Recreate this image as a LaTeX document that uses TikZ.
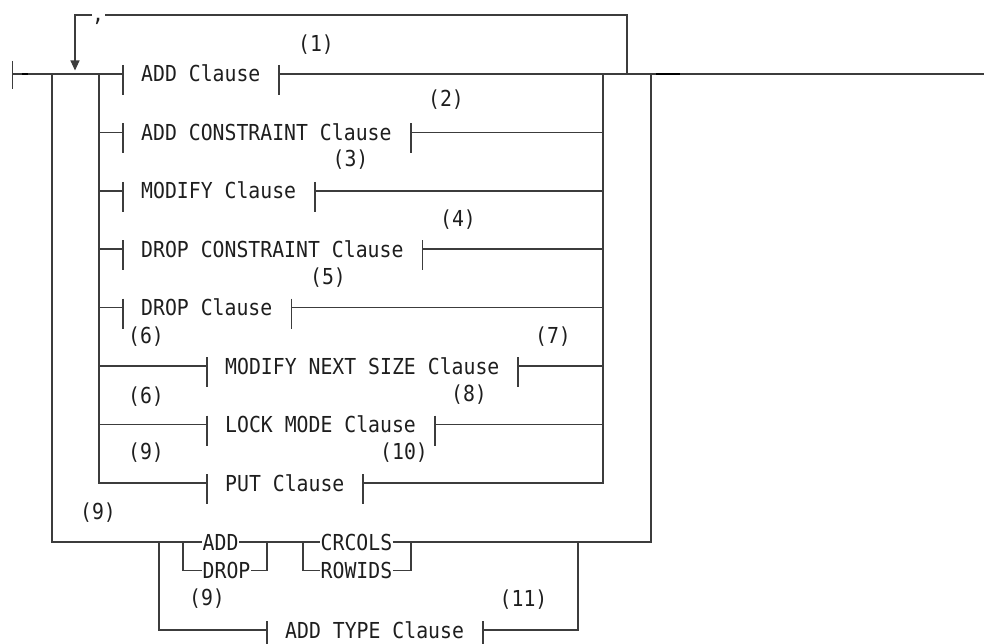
\documentclass[tikz,border=0pt]{standalone}
\usepackage{fontspec}
\newfontfamily\dmono[FakeStretch=0.9]{DejaVu Sans Mono}
\usetikzlibrary{arrows.meta}
\definecolor{linec}{RGB}{60,60,60}
\definecolor{textc}{RGB}{30,30,30}
\begin{document}
\begin{tikzpicture}[x=1pt,y=-1pt,
  ln/.style={draw=linec, line width=1.1pt},
  thickdash/.style={draw=black, line width=2.4pt},
  txt/.style={font=\dmono\fontsize{22}{26}\selectfont, text=textc, inner sep=0pt, anchor=base west},
  kw/.style={font=\dmono\fontsize{22}{26}\selectfont, text=textc, inner xsep=0.5pt, inner ysep=0pt,
             text height=16pt, text depth=0pt, anchor=base west},
  lbl/.style={font=\dmono\fontsize{22}{26}\selectfont, text=textc, inner sep=0pt}]
\useasboundingbox (0,0) rectangle (984,644);

% ---------- clause texts ----------
\node[txt] (c1) at (141,82)    {ADD Clause};
\node[txt] (c2) at (141,140.5) {ADD CONSTRAINT Clause};
\node[txt] (c3) at (141,199)   {MODIFY Clause};
\node[txt] (c4) at (141,257)   {DROP CONSTRAINT Clause};
\node[txt] (c5) at (141,315.5) {DROP Clause};
\node[txt] (c6) at (225,374)   {MODIFY NEXT SIZE Clause};
\node[txt] (c7) at (225,432.5) {LOCK MODE Clause};
\node[txt] (c8) at (225,491)   {PUT Clause};
\node[txt] (c9) at (285,638)   {ADD TYPE Clause};

% ---------- keyword texts on the bottom branch ----------
\node[kw] (add)    at (202,550)   {ADD};
\node[kw] (drop)   at (202,578.5) {DROP};
\node[kw] (crcols) at (320,550)   {CRCOLS};
\node[kw] (rowids) at (320,578.5) {ROWIDS};

% ---------- footnote labels ----------
\node[lbl] (n1)  at (316,45)    {(1)};
\node[lbl] (n2)  at (446,100)   {(2)};
\node[lbl] (n3)  at (350.5,160) {(3)};
\node[lbl] (n4)  at (458,220)   {(4)};
\node[lbl] (n5)  at (328,278)   {(5)};
\node[lbl] (n6a) at (146,337)   {(6)};
\node[lbl] (n7)  at (553,337)   {(7)};
\node[lbl] (n6b) at (146,397)   {(6)};
\node[lbl] (n8)  at (469,395)   {(8)};
\node[lbl] (n9a) at (146,453)   {(9)};
\node[lbl] (n10) at (404,453)   {(10)};
\node[lbl] (n9b) at (98,513)    {(9)};
\node[lbl] (n9c) at (207,599)   {(9)};
\node[lbl] (n11) at (523.5,600) {(11)};
\node[lbl] (comma) at (98,21)   {,};

% ---------- junction coordinates ----------
\coordinate (start) at (12.3,74);
\coordinate (stop)  at (984,74);
\coordinate (c1l) at (123,74);    \coordinate (c1r) at (279,74);
\coordinate (c2l) at (123,132.5); \coordinate (c2r) at (411,132.5);
\coordinate (c3l) at (123,191);   \coordinate (c3r) at (315,191);
\coordinate (c4l) at (123,249);   \coordinate (c4r) at (422.5,249);
\coordinate (c5l) at (123,307.5); \coordinate (c5r) at (291.5,307.5);
\coordinate (c6l) at (207,366);   \coordinate (c6r) at (518,366);
\coordinate (c7l) at (207,424.5); \coordinate (c7r) at (435,424.5);
\coordinate (c8l) at (207,483);   \coordinate (c8r) at (363,483);
\coordinate (c9l) at (267,630);   \coordinate (c9r) at (483,630);

% ---------- start bar and main line ----------
\draw[ln] (12.3,61) -- (12.3,89);
\draw[ln] (start) -- (c1l);
\draw[ln] (c1r) -- (stop);
\draw[thickdash] (22,74) -- (27.5,74);
\draw[thickdash] (656,74) -- (680,74);

% ---------- repeat loop ----------
\draw[ln] (627,74) |- (105,15);
\draw[ln, -{Triangle[width=9pt,length=10pt]}] (92,15) -| (75,70.5);

% ---------- clause bars ----------
\foreach \p in {c1l, c1r, c2l, c2r, c3l, c3r, c4l, c4r,
                c5l, c5r, c6l, c6r, c7l, c7r, c8l, c8r}
  \draw[ln] ([yshift=9pt]\p) -- ([yshift=-21pt]\p);
\draw[ln] ([yshift=9pt]c9l) -- ([yshift=-16pt]c9l);
\draw[ln] ([yshift=9pt]c9r) -- ([yshift=-16pt]c9r);

% ---------- inner choice stack ----------
\draw[ln] (99,74) |- (c8l);
\draw[ln] (c8r) -| (603,74);
\draw[ln] (99,132.5) -- (c2l);  \draw[ln] (c2r) -- (603,132.5);
\draw[ln] (99,191)   -- (c3l);  \draw[ln] (c3r) -- (603,191);
\draw[ln] (99,249)   -- (c4l);  \draw[ln] (c4r) -- (603,249);
\draw[ln] (99,307.5) -- (c5l);  \draw[ln] (c5r) -- (603,307.5);
\draw[ln] (99,366)   -- (c6l);  \draw[ln] (c6r) -- (603,366);
\draw[ln] (99,424.5) -- (c7l);  \draw[ln] (c7r) -- (603,424.5);

% ---------- outer alternative ----------
\draw[ln] (52,74) |- (add.west);
\draw[ln] (add.east) -- (crcols.west);
\draw[ln] (crcols.east) -| (651,74);
\draw[ln] (183,542) |- (drop.west);
\draw[ln] (drop.east) -| (267,542);
\draw[ln] (303,542) |- (rowids.west);
\draw[ln] (rowids.east) -| (411,542);
\draw[ln] (159,542) |- (c9l);
\draw[ln] (c9r) -| (578,542);
\end{tikzpicture}
\end{document}
